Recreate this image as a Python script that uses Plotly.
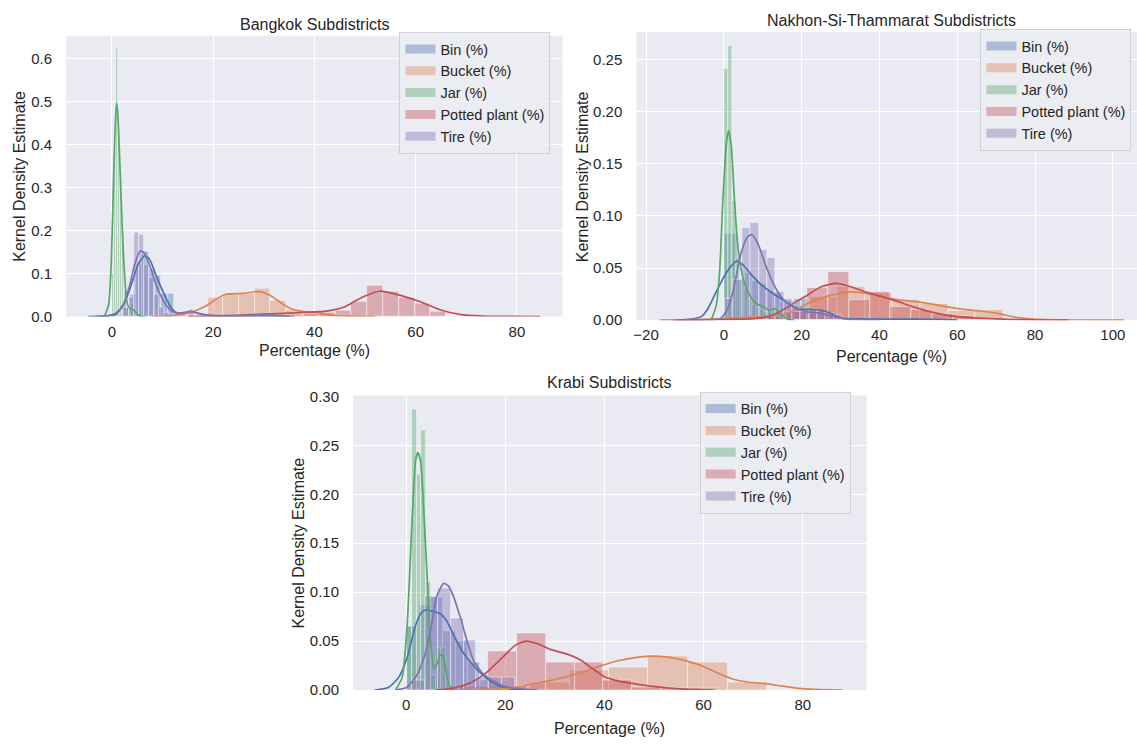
import plotly.graph_objects as go

W, H = 1137, 749

series_names = ["Bin (%)", "Bucket (%)", "Jar (%)", "Potted plant (%)", "Tire (%)"]
series_rgb = [(76, 114, 176), (221, 132, 82), (85, 168, 104), (196, 78, 82), (129, 114, 179)]

panel_titles = ["Bangkok Subdistricts", "Nakhon-Si-Thammarat Subdistricts", "Krabi Subdistricts"]
x_title = "Percentage (%)"
y_title = "Kernel Density Estimate"

# ---------------- Bangkok ----------------
bkk_bin_edges = [1.05, 2.3, 3.55, 4.8, 6.05, 7.3, 8.55, 9.8, 11.05, 12.3, 13.55, 14.8]
bkk_bin_heights = [0.005, 0.02, 0.05, 0.12, 0.15, 0.11, 0.096, 0.054, 0.054, 0.01, 0.004]
bkk_bin_kde_x = [-4.7, -2.0, 0.0, 0.8, 2.2, 3.1, 4.1, 5.1, 6.4, 7.4, 8.7, 10.4, 11.7, 13.0, 14.5, 16.0, 17.5, 20.0, 25.0, 30.0, 35.0]
bkk_bin_kde_y = [0.0, 0.001, 0.004, 0.008, 0.027, 0.05, 0.084, 0.12, 0.141, 0.134, 0.096, 0.05, 0.02, 0.008, 0.008, 0.01, 0.006, 0.002, 0.001, 0.001, 0.0]

bkk_bucket_edges = [18.9, 22.0, 25.1, 28.2, 31.3, 34.4, 37.5, 40.6, 43.7]
bkk_bucket_heights = [0.043, 0.053, 0.053, 0.064, 0.036, 0.016, 0.012, 0.006]
bkk_bucket_kde_x = [8.0, 12.0, 15.0, 17.0, 18.9, 20.5, 22.5, 25.8, 29.1, 31.1, 32.8, 34.4, 36.0, 37.7, 40.0, 43.6, 46.9, 52.0]
bkk_bucket_kde_y = [0.0, 0.002, 0.008, 0.016, 0.027, 0.04, 0.052, 0.054, 0.058, 0.05, 0.037, 0.024, 0.016, 0.012, 0.01, 0.003, 0.001, 0.0]

bkk_jar_edges = [0.0, 0.45, 0.9, 1.15, 1.6, 2.05, 2.5, 2.95, 3.4, 3.85, 4.3, 4.75, 5.2]
bkk_jar_heights = [0.10, 0.40, 0.624, 0.43, 0.343, 0.20, 0.06, 0.02, 0.02, 0.03, 0.015, 0.01]
bkk_jar_kde_x = [-1.5, -0.67, -0.13, 0.33, 0.86, 1.1, 1.5, 2.0, 2.5, 3.1, 3.8, 4.3, 4.8, 5.8, 6.5]
bkk_jar_kde_y = [0.0, 0.027, 0.126, 0.324, 0.497, 0.48, 0.377, 0.217, 0.096, 0.027, 0.017, 0.016, 0.008, 0.0, 0.0]

bkk_potted_edges = [34.8, 37.9, 41.0, 44.2, 47.3, 50.4, 53.6, 56.7, 59.8, 62.9, 66.1]
bkk_potted_heights = [0.005, 0.006, 0.01, 0.014, 0.035, 0.071, 0.057, 0.043, 0.03, 0.011]
bkk_potted_kde_x = [15, 20, 25, 30, 35, 40, 42, 44, 46, 48, 50, 52.9, 56.8, 60.8, 64.8, 68.7, 73.3, 78, 84.6]
bkk_potted_kde_y = [0.0, 0.001, 0.003, 0.006, 0.008, 0.011, 0.012, 0.016, 0.023, 0.036, 0.048, 0.059, 0.05, 0.035, 0.016, 0.005, 0.001, 0.0003, 0.0]

bkk_tire_edges = [2.3, 3.3, 4.3, 5.3, 6.3, 7.3, 8.3, 9.3, 10.3, 11.3, 15.3, 16.3, 29.3, 30.3]
bkk_tire_heights = [0.02, 0.045, 0.195, 0.19, 0.12, 0.09, 0.05, 0.02, 0.01, 0.0, 0.016, 0.0, 0.005]
bkk_tire_kde_x = [-3.0, -1.0, 0.8, 2.2, 3.5, 4.5, 5.6, 6.4, 7.7, 9.0, 10.7, 12.0, 13.5, 15.5, 17.0, 19.0, 23.0, 27.0, 30.0, 33.0, 36.0]
bkk_tire_kde_y = [0.0, 0.001, 0.005, 0.025, 0.073, 0.122, 0.153, 0.148, 0.111, 0.065, 0.027, 0.011, 0.008, 0.012, 0.008, 0.003, 0.002, 0.003, 0.004, 0.002, 0.0]

# ---------------- Nakhon-Si-Thammarat ----------------
nst_bin_edges = [0.0, 1.8, 3.6, 5.4, 7.2, 9.0, 10.8, 12.6, 14.4, 16.2, 18.0, 19.8, 21.6, 23.4, 25.2, 27.0, 28.8]
nst_bin_heights = [0.0825, 0.0825, 0.04, 0.045, 0.038, 0.035, 0.028, 0.026, 0.0175, 0.018, 0.02, 0.02, 0.006, 0.008, 0.01, 0.005]
nst_bin_kde_x = [-13.5, -9.0, -5.8, -4.1, -2.0, 0.15, 1.9, 3.4, 4.9, 7.0, 9.6, 12.1, 14.7, 17.3, 19.8, 22.4, 24.9, 27.5, 30.1, 35.0, 45.0, 55.0, 60.0]
nst_bin_kde_y = [0.0, 0.0008, 0.0034, 0.011, 0.027, 0.0425, 0.052, 0.0566, 0.053, 0.044, 0.034, 0.027, 0.0206, 0.0144, 0.0106, 0.0103, 0.0097, 0.0066, 0.002, 0.0012, 0.001, 0.0008, 0.0]

nst_bucket_edges = [0.8, 7.9, 15.0, 22.1, 29.2, 36.3, 43.4, 50.5, 57.6, 64.7, 71.8]
nst_bucket_heights = [0.002, 0.004, 0.008, 0.022, 0.032, 0.026, 0.019, 0.0156, 0.0087, 0.0094]
nst_bucket_kde_x = [-16.5, -10.0, -5.0, 0.0, 5.0, 10.0, 14.7, 19.0, 23.3, 27.6, 31.8, 36.1, 40.4, 44.6, 48.9, 53.2, 57.5, 61.8, 66.0, 70.3, 74.6, 78.9, 83.1, 87.4, 95.0, 102.9]
nst_bucket_kde_y = [0.0, 0.0003, 0.0008, 0.0015, 0.0025, 0.0035, 0.0047, 0.011, 0.019, 0.024, 0.027, 0.026, 0.0228, 0.0197, 0.018, 0.0156, 0.0128, 0.0103, 0.0088, 0.0066, 0.003, 0.0013, 0.0006, 0.0003, 0.0001, 0.0]

nst_jar_edges = [0.0, 1.03, 2.06, 3.09, 4.12, 5.15, 6.18, 7.21, 8.24, 9.27, 10.3, 11.33, 12.36, 13.39, 14.42, 15.45]
nst_jar_heights = [0.241, 0.263, 0.114, 0.06, 0.04, 0.03, 0.02, 0.015, 0.012, 0.01, 0.008, 0.01, 0.011, 0.01, 0.004]
nst_jar_kde_x = [-3.25, -1.97, -1.1, -0.26, 0.6, 1.2, 1.9, 2.75, 3.6, 4.9, 6.6, 8.3, 10.0, 11.7, 13.2, 14.7, 16.4, 18.0]
nst_jar_kde_y = [0.0, 0.014, 0.046, 0.114, 0.1675, 0.182, 0.1675, 0.114, 0.071, 0.041, 0.024, 0.016, 0.013, 0.0097, 0.011, 0.0056, 0.001, 0.0]

nst_potted_edges = [10.8, 16.15, 21.5, 26.85, 32.2, 37.55, 42.9, 48.25, 53.6, 58.95, 64.3, 69.65]
nst_potted_heights = [0.003, 0.008, 0.031, 0.046, 0.019, 0.0275, 0.0125, 0.010, 0.0056, 0.004, 0.002]
nst_potted_kde_x = [-12.0, -5.0, 0.0, 5.0, 7.0, 11.3, 14.7, 18.1, 21.5, 25.0, 28.8, 31.8, 36.1, 40.4, 44.6, 48.9, 53.2, 57.5, 61.8, 66.0, 74.6, 83.0, 88.4]
nst_potted_kde_y = [0.0, 0.0003, 0.0006, 0.001, 0.0012, 0.0034, 0.0088, 0.0166, 0.024, 0.032, 0.0353, 0.033, 0.0275, 0.0228, 0.018, 0.0125, 0.008, 0.0047, 0.003, 0.0019, 0.0006, 0.0001, 0.0]

nst_tire_edges = [0.4, 2.55, 4.7, 6.85, 9.0, 11.15, 13.3, 15.45, 17.6, 19.75, 21.9, 24.05, 26.2, 28.35, 30.5]
nst_tire_heights = [0.02, 0.039, 0.088, 0.093, 0.067, 0.060, 0.027, 0.02, 0.012, 0.01, 0.01, 0.009, 0.007, 0.005]
nst_tire_kde_x = [-10.0, -2.4, -0.7, 1.0, 2.7, 4.4, 6.1, 7.2, 8.7, 10.8, 13.0, 15.5, 18.1, 21.5, 24.9, 28.4, 31.8, 40.0]
nst_tire_kde_y = [0.0, 0.0005, 0.002, 0.011, 0.033, 0.064, 0.08, 0.082, 0.074, 0.052, 0.033, 0.019, 0.012, 0.008, 0.0066, 0.0034, 0.001, 0.0]

# ---------------- Krabi ----------------
krb_bin_edges = [0.2, 2.65, 5.1, 7.55, 10.0, 12.45, 14.9, 17.35, 19.8, 22.25]
krb_bin_heights = [0.065, 0.086, 0.095, 0.06, 0.05, 0.028, 0.01, 0.005, 0.002]
krb_bin_kde_x = [-6.3, -3.5, -1.5, 0.2, 1.9, 3.2, 4.2, 5.6, 6.9, 8.25, 9.6, 11.3, 13.3, 15.3, 17.3, 19.3, 21.3, 25.0]
krb_bin_kde_y = [0.0, 0.003, 0.013, 0.033, 0.066, 0.080, 0.082, 0.080, 0.078, 0.07, 0.056, 0.04, 0.0266, 0.016, 0.0083, 0.0033, 0.001, 0.0]

krb_bucket_edges = [25.0, 33.0, 40.9, 48.9, 56.9, 64.9, 72.9]
krb_bucket_heights = [0.0073, 0.020, 0.023, 0.0347, 0.028, 0.0073]
krb_bucket_kde_x = [5.9, 10.0, 15.0, 19.2, 22.5, 25.9, 29.2, 32.5, 35.9, 39.2, 42.5, 45.9, 49.2, 52.5, 55.9, 59.2, 62.5, 65.9, 69.2, 72.5, 75.9, 79.2, 82.5, 88.0]
krb_bucket_kde_y = [0.0, 0.0003, 0.0008, 0.0013, 0.003, 0.0067, 0.01, 0.014, 0.019, 0.0247, 0.0297, 0.033, 0.0347, 0.034, 0.0307, 0.0257, 0.0183, 0.0113, 0.008, 0.0067, 0.004, 0.0017, 0.0007, 0.0]

krb_jar_edges = [0.2, 1.17, 2.14, 3.11, 4.08, 5.05, 6.02, 6.99, 7.96, 8.93]
krb_jar_heights = [0.065, 0.287, 0.22, 0.265, 0.11, 0.015, 0.043, 0.043, 0.008]
krb_jar_kde_x = [-2.15, -0.8, 0.2, 1.2, 1.9, 2.35, 2.9, 3.6, 4.2, 4.9, 5.6, 6.2, 6.9, 7.4, 8.05, 8.7, 9.6]
krb_jar_kde_y = [0.0, 0.013, 0.066, 0.173, 0.234, 0.2425, 0.234, 0.179, 0.12, 0.053, 0.0216, 0.0266, 0.0359, 0.035, 0.02, 0.005, 0.0]

krb_potted_edges = [10.8, 16.6, 22.4, 28.2, 34.0, 39.8, 45.6, 51.4, 57.2, 63.0]
krb_potted_heights = [0.004, 0.039, 0.058, 0.028, 0.028, 0.0097, 0.003, 0.0017, 0.0017]
krb_potted_kde_x = [5.9, 9.3, 12.6, 15.9, 19.3, 22.0, 24.2, 26.5, 29.2, 32.5, 35.2, 37.5, 39.9, 42.5, 45.9, 49.2, 52.5, 56.5, 62.0]
krb_potted_kde_y = [0.0, 0.0017, 0.0066, 0.0166, 0.0326, 0.0457, 0.05, 0.0473, 0.0413, 0.0367, 0.0307, 0.0223, 0.014, 0.0097, 0.0067, 0.004, 0.0023, 0.001, 0.0]

krb_tire_edges = [1.2, 3.8, 6.4, 9.0, 11.6, 14.2, 16.8, 19.4, 22.0, 24.6]
krb_tire_heights = [0.01, 0.096, 0.104, 0.073, 0.051, 0.013, 0.013, 0.013, 0.004]
krb_tire_kde_x = [-2.2, 0.07, 1.9, 3.6, 4.9, 6.2, 7.6, 8.6, 9.6, 11.0, 12.3, 13.6, 15.3, 17.3, 19.3, 21.3, 26.5]
krb_tire_kde_y = [0.0, 0.0027, 0.013, 0.033, 0.06, 0.096, 0.109, 0.106, 0.095, 0.073, 0.05, 0.03, 0.018, 0.01, 0.005, 0.0023, 0.0]

x_ticks = [[0, 20, 40, 60, 80], [-20, 0, 20, 40, 60, 80, 100], [0, 20, 40, 60, 80]]
y_ticks = [[0.0, 0.1, 0.2, 0.3, 0.4, 0.5, 0.6],
           [0.0, 0.05, 0.10, 0.15, 0.20, 0.25],
           [0.0, 0.05, 0.10, 0.15, 0.20, 0.25, 0.30]]
y_fmt = [".1f", ".2f", ".2f"]

panels = [
    [(bkk_bin_edges, bkk_bin_heights, bkk_bin_kde_x, bkk_bin_kde_y),
     (bkk_bucket_edges, bkk_bucket_heights, bkk_bucket_kde_x, bkk_bucket_kde_y),
     (bkk_jar_edges, bkk_jar_heights, bkk_jar_kde_x, bkk_jar_kde_y),
     (bkk_potted_edges, bkk_potted_heights, bkk_potted_kde_x, bkk_potted_kde_y),
     (bkk_tire_edges, bkk_tire_heights, bkk_tire_kde_x, bkk_tire_kde_y)],
    [(nst_bin_edges, nst_bin_heights, nst_bin_kde_x, nst_bin_kde_y),
     (nst_bucket_edges, nst_bucket_heights, nst_bucket_kde_x, nst_bucket_kde_y),
     (nst_jar_edges, nst_jar_heights, nst_jar_kde_x, nst_jar_kde_y),
     (nst_potted_edges, nst_potted_heights, nst_potted_kde_x, nst_potted_kde_y),
     (nst_tire_edges, nst_tire_heights, nst_tire_kde_x, nst_tire_kde_y)],
    [(krb_bin_edges, krb_bin_heights, krb_bin_kde_x, krb_bin_kde_y),
     (krb_bucket_edges, krb_bucket_heights, krb_bucket_kde_x, krb_bucket_kde_y),
     (krb_jar_edges, krb_jar_heights, krb_jar_kde_x, krb_jar_kde_y),
     (krb_potted_edges, krb_potted_heights, krb_potted_kde_x, krb_potted_kde_y),
     (krb_tire_edges, krb_tire_heights, krb_tire_kde_x, krb_tire_kde_y)],
]

# ---------------- layout geometry (pixels) ----------------
areas = [(63.3, 561.0, 28.3, 315.3), (635.0, 1137.0, 24.5, 319.0), (351.0, 866.0, 396.0, 697.0)]
x_ranges = [[-9.05, 89.0], [-22.5, 106.2], [-10.7, 92.9]]
y_ranges = [[0, 0.654], [0, 0.2765], [0, 0.3008]]
title_pos = [(312, 17), (891, 13), (608.5, 383)]
xlab_pos = [(312, 350), (891, 356.5), (608.5, 736)]
ylab_pos = [(17, 171.5), (581, 172.5), (296, 547)]
legend_pos = [(397.5, 24.5), (980.0, 21.5), (698.5, 392)]

FONT = "Liberation Sans, Arial, sans-serif"
TXT = "#262626"


def px(x):
    return x / W


def py(y):
    return 1 - y / H


def rgba(c, a):
    return "rgba(%d,%d,%d,%.2f)" % (c[0], c[1], c[2], a)


fig = go.Figure()
legend_keys = ["legend", "legend2", "legend3"]

for p, series in enumerate(panels):
    xa = "x" if p == 0 else "x%d" % (p + 1)
    ya = "y" if p == 0 else "y%d" % (p + 1)
    for s, (edges, heights, kx, ky) in enumerate(series):
        col = series_rgb[s]
        cx, wd, hh = [], [], []
        for i, h in enumerate(heights):
            if h > 0:
                cx.append((edges[i] + edges[i + 1]) / 2)
                wd.append(edges[i + 1] - edges[i])
                hh.append(h)
        fig.add_trace(go.Bar(x=cx, y=hh, width=wd, xaxis=xa, yaxis=ya,
                             marker=dict(color=rgba(col, 0.4),
                                         line=dict(color="rgba(255,255,255,0.45)", width=1)),
                             showlegend=False, hoverinfo="skip"))
        fig.add_trace(go.Scatter(x=kx, y=ky, mode="lines", xaxis=xa, yaxis=ya,
                                 line=dict(color=rgba(col, 1.0), width=1.7, shape="spline", smoothing=0.6),
                                 showlegend=False, hoverinfo="skip"))
    for s, name in enumerate(series_names):
        fig.add_trace(go.Scatter(x=[None], y=[None], mode="lines", xaxis=xa, yaxis=ya,
                                 name=name, legend=legend_keys[p],
                                 line=dict(color=rgba(series_rgb[s], 0.4), width=9)))

layout = dict(
    width=W, height=H, margin=dict(l=0, r=0, t=0, b=0),
    paper_bgcolor="white", plot_bgcolor="#EAEAF2",
    barmode="overlay", bargap=0,
    font=dict(family=FONT, color=TXT),
)
annotations = []
for p in range(3):
    l, r, t, b = areas[p]
    sfx = "" if p == 0 else str(p + 1)
    layout["xaxis" + sfx] = dict(
        domain=[px(l), px(r)], range=x_ranges[p], anchor="y" + sfx,
        tickvals=x_ticks[p], showgrid=True, gridcolor="white", gridwidth=1,
        zeroline=False, showline=False, ticks="", ticklabelstandoff=4,
        tickfont=dict(family=FONT, size=15, color=TXT), fixedrange=True)
    layout["yaxis" + sfx] = dict(
        domain=[py(b), py(t)], range=y_ranges[p], anchor="x" + sfx,
        tickvals=y_ticks[p], tickformat=y_fmt[p], showgrid=True, gridcolor="white", gridwidth=1,
        zeroline=False, showline=False, ticks="", ticklabelstandoff=13,
        tickfont=dict(family=FONT, size=15, color=TXT), fixedrange=True)
    lx, ly = legend_pos[p]
    layout[legend_keys[p]] = dict(
        x=px(lx), y=py(ly), xanchor="left", yanchor="top",
        bgcolor="rgba(236,236,243,0.85)", bordercolor="#d0d0d8", borderwidth=1,
        font=dict(family=FONT, size=14.5, color=TXT), tracegroupgap=0)
    tx, ty = title_pos[p]
    annotations.append(dict(text=panel_titles[p], x=px(tx), y=py(ty), xref="paper", yref="paper",
                            showarrow=False, xanchor="center", yanchor="middle",
                            font=dict(family=FONT, size=16, color=TXT)))
    ax_, ay_ = xlab_pos[p]
    annotations.append(dict(text=x_title, x=px(ax_), y=py(ay_), xref="paper", yref="paper",
                            showarrow=False, xanchor="center", yanchor="middle",
                            font=dict(family=FONT, size=16, color=TXT)))
    bx_, by_ = ylab_pos[p]
    annotations.append(dict(text=y_title, x=px(bx_), y=py(by_), xref="paper", yref="paper",
                            showarrow=False, xanchor="center", yanchor="middle", textangle=-90,
                            font=dict(family=FONT, size=16, color=TXT)))
layout["annotations"] = annotations
fig.update_layout(**layout)

fig.write_html("out.html")
